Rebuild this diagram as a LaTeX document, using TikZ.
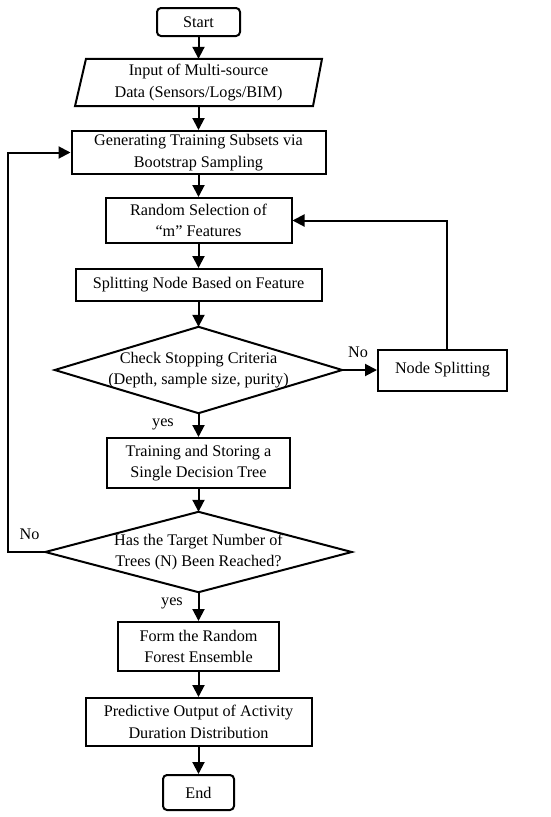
\documentclass[tikz,border=0pt]{standalone}
\usepackage{fontspec}
\setmainfont{Liberation Serif}
\usetikzlibrary{arrows.meta}
\begin{document}
\begin{tikzpicture}[x=1pt,y=-1pt, font=\fontsize{16.2}{21.5}\selectfont,
 box/.style={draw, line width=2pt, inner sep=0pt, align=center},
 term/.style={box, rounded corners=4pt},
 ghost/.style={inner sep=0pt, align=center},
 shapeline/.style={line width=2pt, line join=miter},
 conn/.style={line width=2pt, -{Triangle[length=12pt,width=12pt]}},
 lbl/.style={inner sep=0pt}]
\useasboundingbox (0,0) rectangle (550,817);

\node[term, minimum width=83pt, minimum height=28pt] (start) at (198.5,22) {Start};
\node[ghost, minimum width=238pt, minimum height=47pt] (input) at (198.5,82.5) {Input of Multi-source\\Data (Sensors/Logs/BIM)};
\draw[shapeline] ([xshift=-112.5pt]input.north) -- ([xshift=123.5pt]input.north) -- ([xshift=114.5pt]input.south) -- ([xshift=-123.5pt]input.south) -- cycle;
\node[box, minimum width=254pt, minimum height=43pt] (gen) at (198.5,152.5) {Generating Training Subsets via\\Bootstrap Sampling};
\node[box, minimum width=186pt, minimum height=45pt] (rand) at (198.5,220.5) {Random Selection of\\“m” Features};
\node[box, minimum width=246pt, minimum height=32pt] (split) at (198.5,285) {Splitting Node Based on Feature};
\node[ghost, minimum width=287pt, minimum height=86pt] (d1) at (198.5,370) {Check Stopping Criteria\\(Depth, sample size, purity)};
\draw[shapeline] (d1.west) -- (d1.north) -- (d1.east) -- (d1.south) -- cycle;
\node[box, minimum width=129pt, minimum height=41pt] (ns) at (442.5,370) {Node Splitting};
\node[box, minimum width=183pt, minimum height=50pt] (train) at (198.5,463) {Training and Storing a\\Single Decision Tree};
\node[ghost, minimum width=306pt, minimum height=80pt] (d2) at (198.5,552) {Has the Target Number of\\Trees (N) Been Reached?};
\draw[shapeline] (d2.west) -- (d2.north) -- (d2.east) -- (d2.south) -- cycle;
\node[box, minimum width=161pt, minimum height=49pt] (form) at (198.5,646.5) {Form the Random\\Forest Ensemble};
\node[box, minimum width=226pt, minimum height=48pt] (pred) at (198.5,722) {Predictive Output of Activity\\Duration Distribution};
\node[term, minimum width=71pt, minimum height=35pt] (end) at (198.5,792.5) {End};

\coordinate (lp) at (8,350);

\draw[conn] (start) -- (input);
\draw[conn] (input) -- (gen);
\draw[conn] (gen) -- (rand);
\draw[conn] (rand) -- (split);
\draw[conn] (split) -- (d1);
\draw[conn] (d1.east) -- (ns.west);
\draw[conn] ([xshift=4.5pt]ns.north) |- (rand.east);
\draw[conn] (d1) -- (train);
\draw[conn] (train) -- (d2);
\draw[conn] (d2.west) -| (lp) |- (gen.west);
\draw[conn] (d2) -- (form);
\draw[conn] (form) -- (pred);
\draw[conn] (pred) -- (end);

\node[lbl] (no1) at (358,352) {No};
\node[lbl] (yes1) at (163,424) {yes};
\node[lbl] (no2) at (29.5,534) {No};
\node[lbl] (yes2) at (172,603) {yes};
\end{tikzpicture}
\end{document}
